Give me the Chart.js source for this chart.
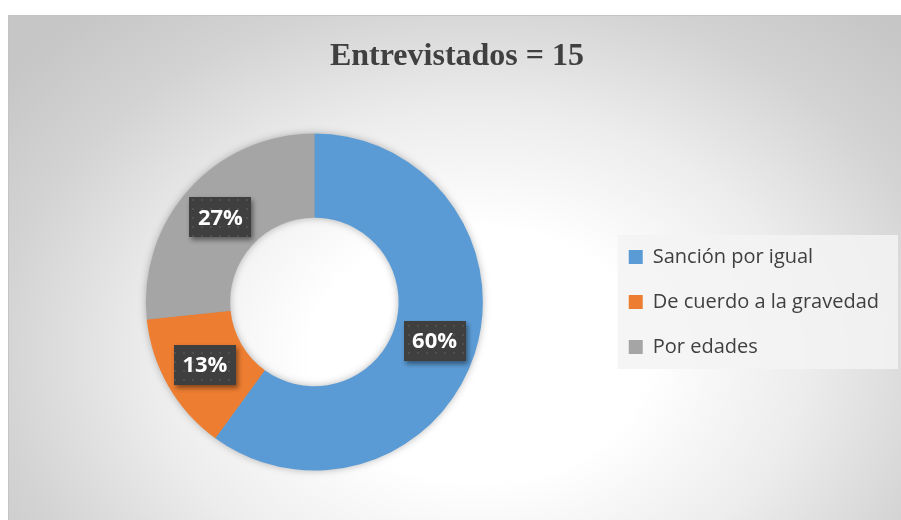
<!DOCTYPE html>
<html>
<head>
<meta charset="utf-8">
<script src="https://cdn.jsdelivr.net/npm/chart.js@4.4.1/dist/chart.umd.min.js"></script>
<style>
    html, body { margin: 0; padding: 0; background: #fff; overflow: hidden; }
    #wrap {
        position: absolute; left: 8px; top: 15px; width: 893px; height: 505px;
        background: radial-gradient(ellipse 600px 450px at 470px 340px, #ffffff 0%, #ffffff 28%, #ececec 55%, #d3d3d3 80%, #c6c6c6 100%);
        box-shadow: inset 1px 1px 0 #c4c4c4;
    }
    #chart { display: block; }
</style>
</head>
<body>
<div id="wrap"><canvas id="chart" width="893" height="505"></canvas></div>
<script>
const categories = ['Sanción por igual', 'De cuerdo a la gravedad', 'Por edades'];
const counts = [9, 2, 4];
const titleText = 'Entrevistados = 15';

const sliceColors = ['#5b9bd5', '#ed7d31', '#a5a5a5'];
const textColor = '#404040';

const total = counts.reduce((a, b) => a + b, 0);

function makeDotPattern(ctx) {
    const c = document.createElement('canvas');
    c.width = 9; c.height = 9;
    const g = c.getContext('2d');
    g.fillStyle = '#3f3f3f';
    g.fillRect(0, 0, 9, 9);
    g.fillStyle = '#505050';
    g.fillRect(4, 4, 2, 2);
    return ctx.createPattern(c, 'repeat');
}

// light panel behind the legend
const legendPanel = {
    id: 'legendPanel',
    beforeDraw(chart) {
        const boxes = chart.legend && chart.legend.legendHitBoxes;
        if (!boxes || !boxes.length) return;
        const first = boxes[0], last = boxes[boxes.length - 1];
        const ctx = chart.ctx;
        const x = first.left - 11;
        const y = first.top + first.height / 2 - 22;
        const y2 = last.top + last.height / 2 + 22;
        ctx.save();
        ctx.fillStyle = 'rgba(243,243,243,0.85)';
        ctx.fillRect(x, y, 890 - x, y2 - y);
        ctx.restore();
    }
};

// soft shadow under the ring
const ringShadow = {
    id: 'ringShadow',
    beforeDatasetsDraw(chart) {
        const arc = chart.getDatasetMeta(0).data[0];
        if (!arc) return;
        const ctx = chart.ctx;
        ctx.save();
        ctx.shadowColor = 'rgba(0,0,0,0.35)';
        ctx.shadowBlur = 9;
        ctx.fillStyle = '#999';
        ctx.beginPath();
        ctx.arc(arc.x, arc.y, arc.outerRadius - 1, 0, Math.PI * 2);
        ctx.arc(arc.x, arc.y, arc.innerRadius + 1, 0, Math.PI * 2, true);
        ctx.fill();
        ctx.restore();
    }
};

// percentage tags on the slices
const sliceTags = {
    id: 'sliceTags',
    afterDatasetsDraw(chart) {
        const ctx = chart.ctx;
        const meta = chart.getDatasetMeta(0);
        const pattern = makeDotPattern(ctx);
        meta.data.forEach((arc, i) => {
            const p = arc.tooltipPosition();
            const txt = Math.round(counts[i] / total * 100) + '%';
            const w = 62, h = 40;
            ctx.save();
            ctx.shadowColor = 'rgba(0,0,0,0.45)';
            ctx.shadowBlur = 5;
            ctx.shadowOffsetX = 2;
            ctx.shadowOffsetY = 3;
            ctx.fillStyle = pattern;
            ctx.fillRect(Math.round(p.x - w / 2), Math.round(p.y - h / 2), w, h);
            ctx.restore();
            ctx.save();
            ctx.fillStyle = '#ffffff';
            ctx.font = 'bold 22px "Open Sans"';
            ctx.textAlign = 'center';
            ctx.textBaseline = 'middle';
            ctx.fillText(txt, p.x, p.y + 1);
            ctx.restore();
        });
    }
};

new Chart(document.getElementById('chart').getContext('2d'), {
    type: 'doughnut',
    data: {
        labels: categories,
        datasets: [{
            data: counts,
            backgroundColor: sliceColors,
            borderWidth: 0
        }]
    },
    options: {
        responsive: false,
        animation: false,
        devicePixelRatio: 1,
        cutout: '50%',
        layout: { padding: { left: 17, right: 12, top: 0, bottom: 49.5 } },
        plugins: {
            title: {
                display: true,
                text: titleText,
                color: textColor,
                font: { family: '"Liberation Serif", "Times New Roman", serif', size: 32, weight: 'bold' },
                padding: { top: 22.3, bottom: 57.8 }
            },
            legend: {
                position: 'right',
                fullSize: false,
                labels: {
                    color: textColor,
                    boxWidth: 14,
                    boxHeight: 14,
                    padding: 25,
                    font: { family: '"Open Sans"', size: 20 }
                }
            },
            tooltip: { enabled: false }
        }
    },
    plugins: [legendPanel, ringShadow, sliceTags]
});
</script>
</body>
</html>
